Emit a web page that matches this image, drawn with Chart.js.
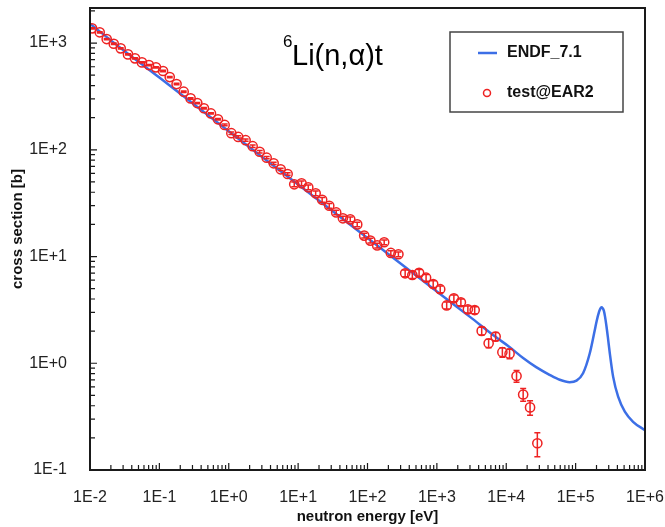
<!DOCTYPE html>
<html>
<head>
<meta charset="utf-8">
<script src="https://cdn.jsdelivr.net/npm/chart.js@4"></script>
<style>
  html, body { margin: 0; padding: 0; background: #fff; }
  canvas { display: block; }
</style>
</head>
<body>
<canvas id="myChart" width="665" height="527"></canvas>
<script>
// ENDF/B-VII.1 evaluated curve (energy in eV, cross section in b)
const endfE = [0.01, 0.0253, 0.1, 1, 10, 100, 1000, 3000, 7000, 11000, 17500, 27000,
  42000, 59000, 82000, 103000, 128000, 160000, 189000, 200000, 218000, 227000, 236000,
  245000, 255000, 265000, 279000, 295000, 311000, 347000, 410000, 512000, 673000, 1000000];
const endfXS = [1520, 940, 475, 149, 47.2, 14.9, 4.70, 2.72, 1.77, 1.43, 1.12, 0.92,
  0.78, 0.70, 0.665, 0.687, 0.806, 1.24, 2.05, 2.45, 3.04, 3.25, 3.34,
  3.28, 3.11, 2.75, 2.20, 1.65, 1.24, 0.75, 0.486, 0.352, 0.283, 0.236];

// measured points
const testE = [0.0107, 0.0138, 0.0174, 0.0220, 0.0277, 0.0353, 0.0445, 0.0561, 0.0708, 0.0893,
  0.113, 0.141, 0.177, 0.224, 0.282, 0.352, 0.439, 0.554, 0.699, 0.873,
  1.09, 1.37, 1.75, 2.21, 2.79, 3.52, 4.44, 5.60, 7.06, 8.79,
  11.2, 14.0, 17.9, 22.2, 28.1, 35.4, 44.2, 56.4, 71.1, 89.6,
  110, 138, 174, 217, 279, 349, 443, 554, 699, 885,
  1117, 1385, 1758, 2218, 2798, 3508, 4426, 5574, 7031, 8790,
  11160, 14070, 17530, 22040, 28060];
const testXS = [1373, 1260, 1090, 985, 892, 783, 719, 659, 622, 592,
  547, 480, 413, 350, 303, 274, 245, 219, 193, 171,
  143, 132, 123, 108, 95.9, 84.3, 74.7, 65.6, 59.3, 47.5,
  48.5, 44.5, 39.1, 34.0, 29.9, 25.9, 22.8, 22.3, 20.0, 15.7,
  14.1, 12.7, 13.6, 10.8, 10.5, 6.96, 6.71, 7.05, 6.33, 5.52,
  4.94, 3.48, 4.06, 3.73, 3.20, 3.15, 2.01, 1.54, 1.78, 1.27,
  1.23, 0.760, 0.510, 0.386, 0.178];
const testErr = [21, 19, 16, 15, 13, 12, 11, 10, 9, 9,
  8, 7, 6, 5, 5, 4, 4, 3, 3, 3,
  3.6, 3.3, 3.1, 2.7, 2.4, 2.1, 1.9, 1.6, 1.5, 2.4,
  2.4, 2.2, 2.0, 1.7, 1.5, 1.3, 1.1, 1.1, 1.0, 0.8,
  0.7, 0.65, 0.7, 0.55, 0.55, 0.5, 0.48, 0.5, 0.45, 0.4,
  0.36, 0.26, 0.3, 0.28, 0.24, 0.24, 0.17, 0.14, 0.16, 0.13,
  0.13, 0.097, 0.07, 0.06, 0.045];

const xTicks = [1e-2, 1e-1, 1e0, 1e1, 1e2, 1e3, 1e4, 1e5, 1e6];
const xTickLabels = ['1E-2', '1E-1', '1E+0', '1E+1', '1E+2', '1E+3', '1E+4', '1E+5', '1E+6'];
const yTicks = [1e-1, 1e0, 1e1, 1e2, 1e3];
const yTickLabels = ['1E-1', '1E+0', '1E+1', '1E+2', '1E+3'];
const yTitle = 'cross section [b]';

const FONT = '"Liberation Sans", Arial, Helvetica, sans-serif';
const BLUE = '#3c6fe6';
const RED = '#ee2222';

function noPad(s) {
  s.paddingLeft = 0; s.paddingRight = 0; s.paddingTop = 0; s.paddingBottom = 0;
}

// frame, inward ticks, error bars, reaction label and legend box
const decor = {
  id: 'decor',
  afterDatasetsDraw(chart) {
    const { ctx, chartArea: a, scales: { x, y } } = chart;
    ctx.save();
    ctx.beginPath();
    ctx.rect(a.left, a.top, a.right - a.left, a.bottom - a.top);
    ctx.clip();
    ctx.strokeStyle = RED;
    ctx.lineWidth = 1.5;
    testE.forEach((e, i) => {
      const px = x.getPixelForValue(e);
      const y1 = y.getPixelForValue(testXS[i] + testErr[i]);
      const y2 = y.getPixelForValue(testXS[i] - testErr[i]);
      ctx.beginPath();
      ctx.moveTo(px, y1); ctx.lineTo(px, y2);
      ctx.moveTo(px - 3, y1); ctx.lineTo(px + 3, y1);
      ctx.moveTo(px - 3, y2); ctx.lineTo(px + 3, y2);
      ctx.stroke();
    });
    ctx.restore();
  },
  afterDraw(chart) {
    const { ctx, chartArea: a, scales: { x, y } } = chart;
    ctx.save();
    ctx.strokeStyle = '#1a1a1a';
    ctx.lineWidth = 1.2;
    ctx.beginPath();
    xTicks.forEach((d, k) => {
      for (let m = 1; m <= 9; m++) {
        if (k === xTicks.length - 1 && m > 1) break;
        const px = x.getPixelForValue(d * m);
        const len = m === 1 ? 7 : 5;
        ctx.moveTo(px, a.bottom); ctx.lineTo(px, a.bottom - len);
      }
    });
    yTicks.forEach((d) => {
      for (let m = 1; m <= 9; m++) {
        const v = d * m;
        if (v > y.max) break;
        const py = y.getPixelForValue(v);
        const len = m === 1 ? 7 : 5;
        ctx.moveTo(a.left, py); ctx.lineTo(a.left + len, py);
      }
    });
    ctx.stroke();

    ctx.lineWidth = 2;
    ctx.strokeRect(a.left, a.top, a.right - a.left, a.bottom - a.top);

    // y axis title (sits a little above the axis centre in the original)
    ctx.save();
    ctx.translate(18, (a.top + a.bottom) / 2 - 10);
    ctx.rotate(-Math.PI / 2);
    ctx.fillStyle = '#111';
    ctx.font = 'bold 15px ' + FONT;
    ctx.textAlign = 'center';
    ctx.textBaseline = 'middle';
    ctx.fillText(yTitle, 0, 0);
    ctx.restore();

    // reaction label
    ctx.fillStyle = '#000';
    ctx.textBaseline = 'alphabetic';
    ctx.textAlign = 'left';
    ctx.font = '17px ' + FONT;
    ctx.fillText('6', a.left + 193, a.top + 39);
    ctx.font = '29px ' + FONT;
    ctx.fillText('Li(n,\u03b1)t', a.left + 202, a.top + 57);

    // legend
    const lx = 450, ly = 32, lw = 173, lh = 80;
    ctx.strokeStyle = '#444';
    ctx.lineWidth = 1.5;
    ctx.strokeRect(lx, ly, lw, lh);
    const ds = chart.data.datasets;
    ctx.strokeStyle = BLUE;
    ctx.lineWidth = 2.5;
    ctx.beginPath();
    ctx.moveTo(lx + 28, ly + 21); ctx.lineTo(lx + 47, ly + 21);
    ctx.stroke();
    ctx.strokeStyle = RED;
    ctx.lineWidth = 1.5;
    ctx.beginPath();
    ctx.arc(lx + 37, ly + 61, 3.5, 0, Math.PI * 2);
    ctx.stroke();
    ctx.fillStyle = '#111';
    ctx.font = 'bold 16px ' + FONT;
    ctx.textBaseline = 'middle';
    ctx.fillText(ds[0].label, lx + 57, ly + 21);
    ctx.fillText(ds[1].label, lx + 57, ly + 61);
    ctx.restore();
  }
};

const ctx = document.getElementById('myChart').getContext('2d');
new Chart(ctx, {
  type: 'scatter',
  data: {
    datasets: [
      {
        label: 'ENDF_7.1',
        data: endfE.map((e, i) => ({ x: e, y: endfXS[i] })),
        showLine: true,
        borderColor: BLUE,
        borderWidth: 2.5,
        pointRadius: 0,
        cubicInterpolationMode: 'monotone',
        order: 2,
      },
      {
        label: 'test@EAR2',
        data: testE.map((e, i) => ({ x: e, y: testXS[i] })),
        showLine: false,
        borderColor: RED,
        backgroundColor: 'rgba(0,0,0,0)',
        borderWidth: 1.5,
        pointRadius: 4.6,
        order: 1,
      },
    ],
  },
  options: {
    responsive: false,
    animation: false,
    devicePixelRatio: 1,
    layout: { padding: { top: 8, right: 20, left: 0, bottom: 0 } },
    plugins: { legend: { display: false }, tooltip: { enabled: false } },
    scales: {
      x: {
        type: 'logarithmic',
        min: 1e-2,
        max: 1e6,
        grid: { display: false },
        border: { display: false },
        afterBuildTicks: s => { s.ticks = xTicks.map(v => ({ value: v })); },
        afterFit: s => { s.height = 57; noPad(s); },
        ticks: {
          autoSkip: false,
          maxRotation: 0,
          padding: 10,
          color: '#222',
          font: { family: FONT, size: 16 },
          callback: (v) => { const i = xTicks.indexOf(v); return i >= 0 ? xTickLabels[i] : ''; },
        },
        title: {
          display: true,
          text: 'neutron energy [eV]',
          color: '#111',
          font: { family: FONT, size: 15, weight: 'bold' },
          padding: { top: 0, bottom: 1 },
        },
      },
      y: {
        type: 'logarithmic',
        min: 0.1,
        max: 2130,
        grid: { display: false },
        border: { display: false },
        afterBuildTicks: s => { s.ticks = yTicks.map(v => ({ value: v })); },
        afterFit: s => { s.width = 90; noPad(s); },
        ticks: {
          autoSkip: false,
          padding: 15,
          color: '#222',
          font: { family: FONT, size: 16 },
          callback: (v) => { const i = yTicks.indexOf(v); return i >= 0 ? yTickLabels[i] : ''; },
        },
        title: { display: false },
      },
    },
  },
  plugins: [decor],
});
</script>
</body>
</html>
